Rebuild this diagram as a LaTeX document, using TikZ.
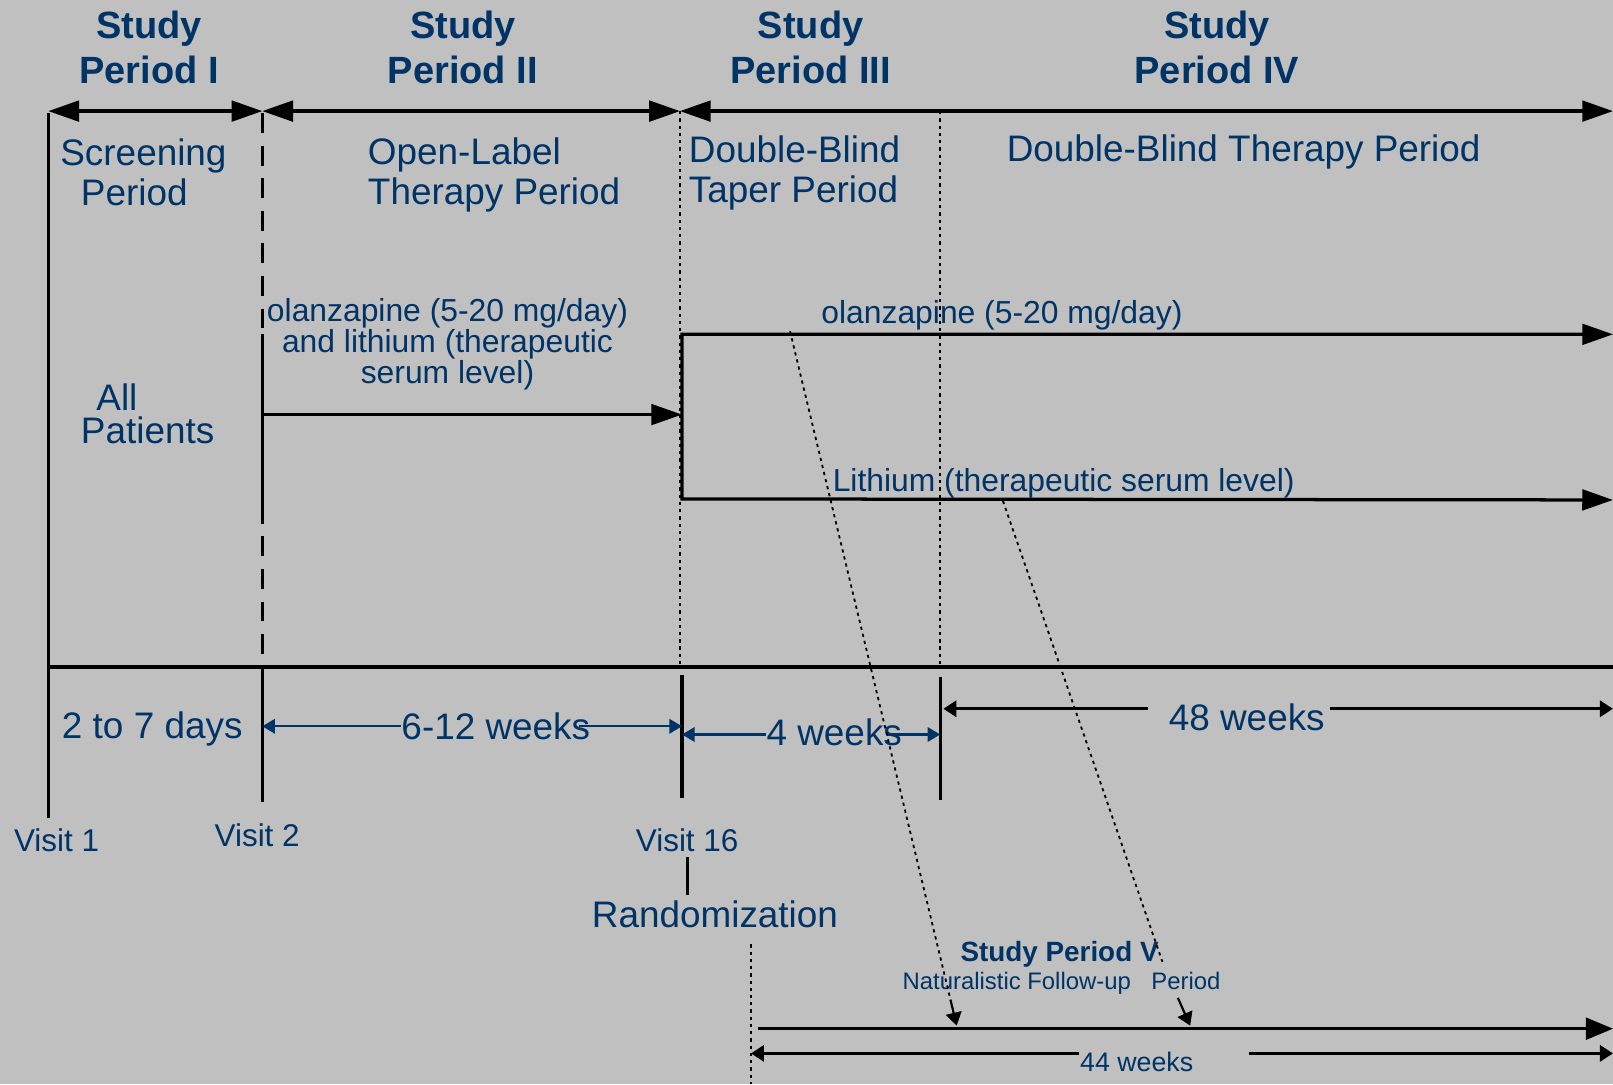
\documentclass[tikz,border=0pt]{standalone}
\usepackage{fontspec}
\setmainfont{Liberation Sans}
\usetikzlibrary{arrows.meta}
\definecolor{bggray}{RGB}{192,192,192}
\definecolor{navy}{RGB}{0,51,102}
\tikzset{
  txt/.style={text=navy, inner sep=0pt},
  hd/.style={txt, font=\fontsize{10.5}{12.5}\selectfont\bfseries, align=center, anchor=north},
  plab/.style={txt, font=\fontsize{10.2}{11.2}\selectfont, align=left, anchor=north west},
  lbl/.style={txt, font=\fontsize{10.2}{12}\selectfont, anchor=base},
  drug/.style={txt, font=\fontsize{8.8}{8.6}\selectfont},
  visit/.style={txt, font=\fontsize{8.7}{10}\selectfont, anchor=base},
  ln/.style={line width=0.9pt},
  guide/.style={line width=0.5pt, dash pattern=on 0.9pt off 1.1pt},
  blu/.style={draw=navy, line width=0.6pt, -{Triangle[length=3.5pt,width=4pt]}},
  sm/.style={line width=0.9pt, -{Triangle[length=3.6pt,width=4.4pt]}}
}
\begin{document}
\begin{tikzpicture}[x=0.01cm, y=-0.01cm, >={Triangle[length=8.5pt,width=5.7pt]}]
  \def\xa{47} \def\xb{255} \def\xc{661} \def\xd{914} \def\xe{1568} \def\yb{648}
  \path[use as bounding box, fill=bggray] (0,0) rectangle (1568,1054);
  % study periods
  \node[hd] (p1) at (145,10) {Study\\Period I};
  \node[hd] (p2) at (450,10) {Study\\Period II};
  \node[hd] (p3) at (788,10) {Study\\Period III};
  \node[hd] (p4) at (1183,10) {Study\\Period IV};
  \draw[ln,<->] (\xa,108) -- (\xb,108);
  \draw[ln,<->] (\xb,108) -- (\xc,108);
  \draw[ln,<->] (\xc,108) -- (\xe,108);
  \node[plab] (scr) at (58,134) {Screening\\\hspace*{0.2cm}Period};
  \node[plab] (olt) at (357,133) {Open-Label\\Therapy Period};
  \node[plab] (dbt) at (669,131) {Double-Blind\\Taper Period};
  \node[plab] (dbp) at (978,130) {Double-Blind Therapy Period};
  % treatments
  \node[drug, align=center, anchor=north] (combo) at (435,289) {olanzapine (5-20 mg/day)\\and lithium (therapeutic\\serum level)};
  \node[drug, anchor=base] (olz) at (974,314) {olanzapine (5-20 mg/day)};
  \node[drug, anchor=base] (lith) at (1034,478) {Lithium (therapeutic serum level)};
  \node[plab, font=\fontsize{10.2}{9.1}\selectfont] (allp) at (78,372) {\hspace*{0.15cm}All\\Patients};
  \draw[ln] (\xa,110) -- (\xa,795);
  \draw[ln, dash pattern=on 5.5pt off 3.5pt] (\xb,110) -- (\xb,\yb);
  \draw[ln] (\xb,325) -- (\xb,490);
  \draw[guide] (\xc,108) -- (\xc,\yb);
  \draw[guide] (\xd,108) -- (\xd,\yb);
  \draw[ln,->] (\xb,403) -- (663,403);
  \draw[ln,<->] (\xe,325) -- (663,325) -- (663,485) -- (\xe,486);
  % time line
  \coordinate (k1) at (\xa,\yb); \coordinate (k2) at (\xb,\yb);
  \coordinate (k16) at (663,\yb); \coordinate (k3) at (\xd,\yb);
  \coordinate (ke) at (\xe,\yb);
  \draw[line width=1.1pt] (k1) -- (ke);
  \draw[ln] (\xb,650) -- (\xb,780);
  \draw[ln] (663,656) -- (663,776);
  \draw[ln] (\xd,658) -- (\xd,778);
  \node[lbl] (d27) at (148,718) {2 to 7 days};
  \node[lbl, anchor=center] (w612) at (482,706) {6-12 weeks};
  \node[lbl, anchor=center] (w4) at (811,712) {4 weeks};
  \node[lbl] (w48) at (1212,710) {48 weeks};
  \draw[blu] (w612.west) -- (w612.west -| k2);
  \draw[blu] ([xshift=-0.12cm]w612.east) -- (w612.east -| k16);
  \draw[blu] ([yshift=-0.02cm]w4.west) -- ([yshift=-0.02cm]w4.west -| k16);
  \draw[blu] ([xshift=-0.15cm,yshift=-0.02cm]w4.east) -- ([yshift=-0.02cm]w4.east -| k3);
  \coordinate (a48) at (917,689);
  \draw[sm] ([xshift=-0.2cm]w48.west |- a48) -- (a48);
  \draw[sm] ([xshift=0.04cm]w48.east |- a48) -- (a48 -| ke);
  % visits
  \node[visit] (v1) at (55,828) {Visit 1};
  \node[visit] (v2) at (250,823) {Visit 2};
  \node[visit] (v16) at (668,828) {Visit 16};
  \node[lbl] (rand) at (695,902) {Randomization};
  \draw[ln] ([yshift=-0.04cm]v16.south) -- ([yshift=0.05cm]v16.south |- rand.north);
  % follow-up
  \node[txt, font=\fontsize{7.7}{8}\selectfont\bfseries, anchor=base] (sp5) at (1030,935) {Study Period V};
  \node[txt, font=\fontsize{6.6}{8}\selectfont, anchor=base] (nfp) at (1032,962) {Naturalistic Follow-up\hspace{0.2cm}Period};
  \node[txt, font=\fontsize{7.4}{8}\selectfont, anchor=base] (w44) at (1105,1042) {44 weeks};
  \draw[guide] (730,918) -- (730,1054);
  \coordinate (r0) at (737,1000);
  \draw[ln,->, >={Triangle[length=7.5pt,width=6pt]}] (r0) -- (r0 -| ke);
  \coordinate (a44) at (730,1024);
  \draw[sm] (w44.west |- a44) -- (a44);
  \draw[sm] ([xshift=0.53cm]w44.east |- a44) -- (a44 -| ke);
  \coordinate (o1) at (768,322); \coordinate (o2) at (924,972); \coordinate (o3) at (930,997);
  \coordinate (l1) at (975,487); \coordinate (l2) at (1130,935);
  \coordinate (l3) at (1145,970); \coordinate (l4) at (1157,997);
  \draw[guide] (o1) -- (o2);
  \draw[sm, line width=0.6pt] (o2) -- (o3);
  \draw[guide] (l1) -- (l2);
  \draw[sm, line width=0.6pt] (l3) -- (l4);
\end{tikzpicture}
\end{document}
